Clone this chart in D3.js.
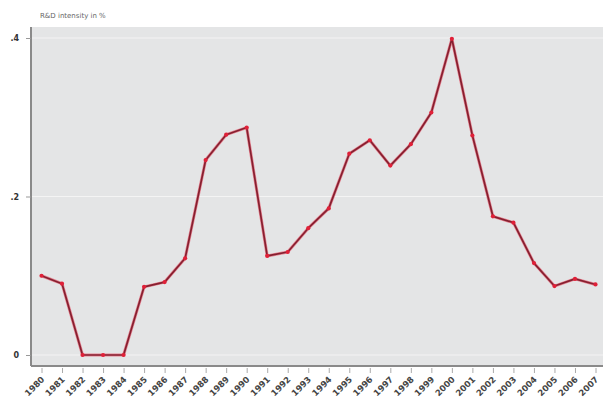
<!DOCTYPE html>
<html><head><meta charset="utf-8">
<script src="https://cdn.jsdelivr.net/npm/d3@7"></script>
<style>body{margin:0;background:#fff}svg{display:block}</style>
</head><body>
<svg id="c" width="603" height="409"></svg>
<script>
const years = [1980,1981,1982,1983,1984,1985,1986,1987,1988,1989,1990,1991,1992,1993,1994,1995,1996,1997,1998,1999,2000,2001,2002,2003,2004,2005,2006,2007];
const values = [0.100,0.090,0,0,0,0.086,0.092,0.122,0.246,0.278,0.287,0.125,0.130,0.160,0.185,0.254,0.271,0.239,0.266,0.306,0.399,0.277,0.175,0.167,0.116,0.087,0.096,0.089];
const yTicks = [0,0.2,0.4];
const yTickLabels = ["0",".2",".4"];
const yTitle = "R&D intensity in %";

(function(){
const svg = d3.select("#c");
const pl = 31, pr = 603, pt = 27, pb = 366;
const x = d3.scaleLinear().domain([1980,2007]).range([41.5,595.5]);
const y = d3.scaleLinear().domain([0,0.4]).range([355,38]);

svg.append("rect").attr("x",pl).attr("y",pt).attr("width",pr-pl).attr("height",pb-pt).attr("fill","#e4e5e6");

svg.append("g").selectAll("line").data(yTicks).join("line")
  .attr("x1",pl).attr("x2",pr).attr("y1",d=>y(d)).attr("y2",d=>y(d))
  .attr("stroke","#f4f4f4").attr("stroke-width",1.2);

const ya = svg.append("g").attr("transform",`translate(${pl},0)`)
  .call(d3.axisLeft(y).tickValues(yTicks).tickFormat((d,i)=>yTickLabels[i]).tickSize(5).tickPadding(7));
ya.select(".domain").attr("stroke","#8a8a8a").attr("stroke-width",2).attr("d",`M0,${pt}V${pb}`);
ya.selectAll(".tick line").attr("stroke","#999");
ya.selectAll(".tick text").attr("fill","#333").style("font-family","DejaVu Sans").style("font-size","8px").style("font-weight","bold");

const xa = svg.append("g").attr("transform",`translate(0,${pb})`)
  .call(d3.axisBottom(x).tickValues(years).tickFormat(d3.format("d")).tickSize(5).tickPadding(4));
xa.select(".domain").attr("stroke","#8a8a8a").attr("stroke-width",2).attr("d",`M${pl},0H${pr}`);
xa.selectAll(".tick line").attr("stroke","#aaa").attr("y1",2).attr("y2",7);
xa.selectAll(".tick text").attr("fill","#444").style("font-family","DejaVu Sans").style("font-size","8.5px").style("font-weight","bold")
  .attr("text-anchor","end").attr("dy",0).attr("transform","translate(3,14) rotate(-45)").attr("y",0).attr("x",0);

svg.append("text").attr("x",40).attr("y",18).text(yTitle)
  .attr("fill","#666").style("font-family","DejaVu Sans").style("font-size","7px");

const line = d3.line().x((d,i)=>x(years[i])).y(d=>y(d));
svg.append("path").datum(values).attr("d",line).attr("fill","none")
  .attr("stroke","#e8203c").attr("stroke-width",3).attr("stroke-opacity",0.5).attr("stroke-linejoin","round");
svg.append("path").datum(values).attr("d",line).attr("fill","none")
  .attr("stroke","#862030").attr("stroke-width",1.7).attr("stroke-linejoin","round");
svg.append("g").selectAll("circle").data(values).join("circle")
  .attr("cx",(d,i)=>x(years[i])).attr("cy",d=>y(d)).attr("r",2.1).attr("fill","#e02038");
})();
</script>
</body></html>
